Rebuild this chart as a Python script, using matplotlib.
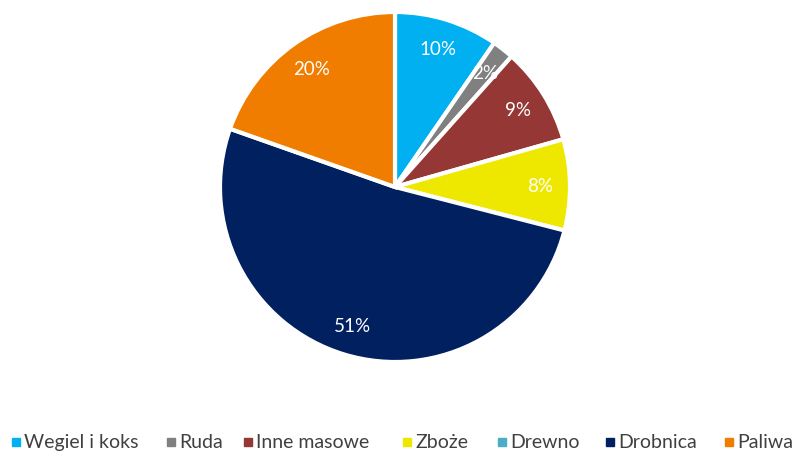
import matplotlib.pyplot as plt
from matplotlib.lines import Line2D

categories = ["Wegiel i koks", "Ruda", "Inne masowe", "Zboże", "Drewno", "Drobnica", "Paliwa"]
shares = [9.6, 2.0, 9.0, 8.4, 0.0, 51.4, 19.6]
colors = ["#00B0F0", "#808080", "#953735", "#EEE800", "#4BACC6", "#002060", "#F07D00"]

plt.rcParams['font.family'] = ['Lato', 'DejaVu Sans']

W, H = 792, 452
fig = plt.figure(figsize=(W / 100, H / 100), dpi=100)
ax = fig.add_axes([(395 - 175) / W, (H - 188 - 175) / H, 350 / W, 350 / H])

# skip empty slices in the pie, keep them in the legend
vals = [v for v in shares if v > 0]
cols = [c for v, c in zip(shares, colors) if v > 0]

wedges, texts, autotexts = ax.pie(
    vals, colors=cols, startangle=90, counterclock=False,
    autopct=lambda p: f"{p:.0f}%", pctdistance=0.83,
    wedgeprops=dict(edgecolor="white", linewidth=3),
    textprops=dict(color="white", fontsize=13.5))
ax.set_xlim(-1, 1)
ax.set_ylim(-1, 1)
ax.set_aspect("equal")

# legend laid out by hand, one entry per category
entry_x = [12, 167, 244, 403, 498, 606, 725]
ly = (H - 443) / H
for x, name, c in zip(entry_x, categories, colors):
    fig.add_artist(Line2D([(x + 3.5) / W], [ly], marker="s", linestyle="", color=c,
                          markersize=6, transform=fig.transFigure))
    fig.text((x + 12) / W, ly, name, fontsize=14, color="#404040", va="center", ha="left")

fig.savefig("out.png", dpi=100)
